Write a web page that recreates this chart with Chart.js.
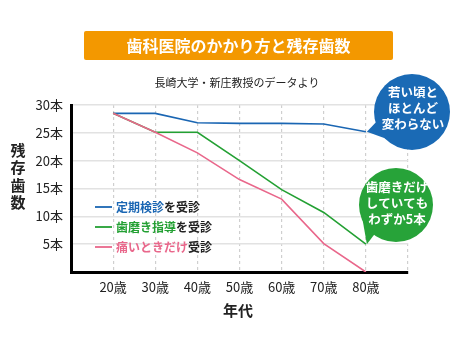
<!DOCTYPE html>
<html lang="ja">
<head>
<meta charset="utf-8">
<title>歯科医院のかかり方と残存歯数</title>
<script src="https://cdn.jsdelivr.net/npm/chart.js@4.4.1/dist/chart.umd.min.js"></script>
<style>
  html, body { margin: 0; padding: 0; background: #fff; }
  #wrap { width: 460px; height: 349px; }
</style>
</head>
<body>
<div id="wrap"><canvas id="myChart" width="460" height="349"></canvas></div>
<script>
// 年代
const ages = [20, 30, 40, 50, 60, 70, 80];
// 残存歯数 (本)
const teikiKenshin = [28.5, 28.5, 26.8, 26.7, 26.7, 26.6, 25.2];
const hamigakiShido = [28.5, 25.1, 25.1, 20.0, 14.8, 10.7, 5.0];
const itaiTokiDake = [28.5, 25.1, 21.4, 16.6, 13.1, 5.1, 0];

const yTicks = [5, 10, 15, 20, 25, 30];
const legendColored = ['定期検診', '歯磨き指導', '痛いときだけ'];
const legendRest = ['を受診', 'を受診', '受診'];
const titleText = '歯科医院のかかり方と残存歯数';
const subtitleText = '長崎大学・新庄教授のデータより';
const yTitle = ['残', '存', '歯', '数'];
const xTitle = '年代';
const bubbleBlue = ['若い頃と', 'ほとんど', '変わらない'];
const bubbleGreen = ['歯磨きだけ', 'していても', 'わずか5本'];

const FONT = '"Noto Sans CJK JP", "Noto Sans", sans-serif';
const BLUE = '#1a66b3';
const GREEN = '#23a033';
const PINK = '#e9678b';

const toPts = arr => ages.map((a, i) => ({ x: a, y: arr[i] }));

const decor = {
    id: 'decor',
    afterDraw (chart) {
        const ctx = chart.ctx;
        const xs = chart.scales.x, ys = chart.scales.y;
        ctx.save();

        // title box
        ctx.fillStyle = '#f39800';
        ctx.beginPath();
        ctx.roundRect(84, 31, 309, 29, 2);
        ctx.fill();
        ctx.fillStyle = '#fff';
        ctx.font = 'bold 16px ' + FONT;
        ctx.textAlign = 'center';
        ctx.textBaseline = 'middle';
        ctx.fillText(titleText, 238.5, 46);

        ctx.fillStyle = '#222';
        ctx.font = '11px ' + FONT;
        ctx.fillText(subtitleText, 237, 83);

        // axis titles
        ctx.font = 'bold 15px ' + FONT;
        yTitle.forEach((c, i) => ctx.fillText(c, 18, 150 + i * 17.5));
        ctx.fillText(xTitle, 238, 310);

        // legend
        ctx.textAlign = 'left';
        ctx.font = 'bold 12px ' + FONT;
        chart.data.datasets.slice().reverse().forEach((ds, i) => {
            const y = 207 + i * 20;
            ctx.strokeStyle = ds.borderColor;
            ctx.lineWidth = 1.8;
            ctx.beginPath();
            ctx.moveTo(95, y);
            ctx.lineTo(112, y);
            ctx.stroke();
            ctx.fillStyle = ds.borderColor;
            ctx.fillText(legendColored[i], 116, y);
            const w = ctx.measureText(legendColored[i]).width;
            ctx.fillStyle = '#222';
            ctx.fillText(legendRest[i], 116 + w, y);
        });

        // callouts
        const bubble = (cx, cy, r, color, lines, tipIdx, tipArr, textY) => {
            const tx = xs.getPixelForValue(ages[tipIdx]);
            const ty = ys.getPixelForValue(tipArr[tipIdx]);
            ctx.fillStyle = color;
            ctx.beginPath();
            ctx.arc(cx, cy, r, 0, Math.PI * 2);
            ctx.fill();
            ctx.beginPath();
            ctx.moveTo(cx - r * 0.93, cy + r * 0.25);
            ctx.lineTo(tx + 1, ty);
            ctx.lineTo(cx - r * 0.55, cy + r * 0.75);
            ctx.closePath();
            ctx.fill();
            ctx.fillStyle = '#fff';
            ctx.textAlign = 'center';
            ctx.font = 'bold 12.5px ' + FONT;
            lines.forEach((l, i) => ctx.fillText(l, cx + 1, textY + i * 16));
        };
        bubble(412, 112, 38, '#1a6ab5', bubbleBlue, 6, teikiKenshin, 92);
        bubble(396, 205, 37, '#27a339', bubbleGreen, 6, hamigakiShido, 187);

        ctx.restore();
    }
};

new Chart(document.getElementById('myChart'), {
    type: 'line',
    data: {
        datasets: [
            { label: '痛いときだけ受診', data: toPts(itaiTokiDake), borderColor: PINK, order: 0 },
            { label: '歯磨き指導を受診', data: toPts(hamigakiShido), borderColor: GREEN, order: 1 },
            { label: '定期検診を受診', data: toPts(teikiKenshin), borderColor: BLUE, order: 2 }
        ]
    },
    options: {
        responsive: false,
        animation: false,
        events: [],
        layout: { padding: { top: 105, left: 0, right: 52, bottom: 0 } },
        elements: {
            line: { borderWidth: 1.6, tension: 0, fill: false },
            point: { radius: 0 }
        },
        plugins: { legend: { display: false }, tooltip: { enabled: false } },
        scales: {
            x: {
                type: 'linear',
                min: 10, max: 90,
                afterFit: s => { s.height = 77; },
                border: { color: '#000', width: 3, dash: [3, 3] },
                grid: { display: true, color: '#cfcfcf', lineWidth: 1.2, drawTicks: false },
                ticks: {
                    stepSize: 10, autoSkip: false, maxRotation: 0, padding: 7,
                    color: '#222', font: { family: FONT, size: 13 },
                    callback: v => ages.includes(v) ? v + '歳' : ''
                }
            },
            y: {
                min: 0, max: 30,
                afterFit: s => { s.width = 71; },
                border: { color: '#000', width: 3 },
                grid: { color: '#e2e2e2', lineWidth: 1.5, drawTicks: false },
                ticks: {
                    stepSize: 5, padding: 8,
                    color: '#222', font: { family: FONT, size: 13 },
                    callback: v => yTicks.includes(v) ? v + '本' : ''
                }
            }
        }
    },
    plugins: [decor]
});
</script>
</body>
</html>
